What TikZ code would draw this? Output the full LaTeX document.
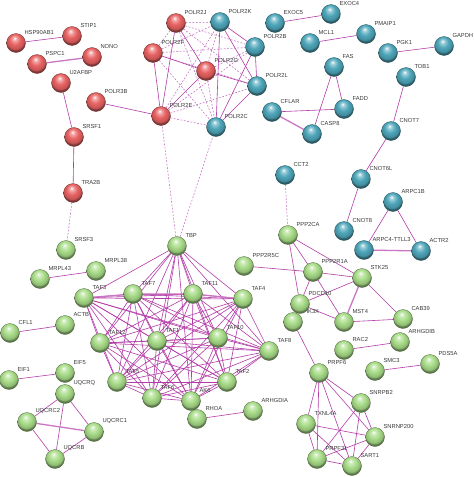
\documentclass[tikz,border=0pt]{standalone}
\usepackage{fontspec}
\setmainfont{Liberation Sans}
\usepackage{xcolor}
\usepackage{tikz}
\definecolor{NetRed}{HTML}{E86262}
\definecolor{NetBlue}{HTML}{4EA6BA}
\definecolor{NetGreen}{HTML}{A8DC88}
\definecolor{NetEdge}{HTML}{B43CA8}
\definecolor{NetDash}{HTML}{C070C0}
\definecolor{NetText}{HTML}{3A3A3A}
\colorlet{netcol}{NetGreen}
\pgfdeclareradialshading[netcol]{netball}{\pgfqpoint{-4bp}{13bp}}{%
  color(0bp)=(white); color(5bp)=(netcol!55!white); color(14bp)=(netcol);
  color(23bp)=(netcol!85!black); color(26bp)=(netcol!55!black); color(50bp)=(netcol!40!black)}
\pgfdeclarelayer{paper}
\pgfdeclarelayer{edges}
\pgfsetlayers{paper,edges,main}

\begin{document}
\begin{tikzpicture}[x=1pt,y=-1pt,
  ball/.style={circle,minimum size=19pt,inner sep=0pt,/utils/exec={\colorlet{netcol}{#1}},
    shading=netball,draw=#1!45!black,line width=0.3pt},
  rball/.style={ball=NetRed},
  bball/.style={ball=NetBlue},
  gball/.style={ball=NetGreen},
  pname/.style={font=\fontsize{5.8}{6}\selectfont,text=NetText,inner sep=0.8pt},
  txt/.style={label={[pname,label distance=1pt]45:#1}},
  ppi/.style={draw=NetEdge,line width=0.6pt},
  ppi2/.style={draw=NetEdge!70,line width=1.3pt},
  pred/.style={draw=NetDash,line width=0.55pt,dash pattern=on 1.8pt off 1.6pt}]
\path[use as bounding box] (0,0) rectangle (474,477);
\begin{pgfonlayer}{paper}
\fill[white] (0,0) rectangle (474,477);
\end{pgfonlayer}
% red group
\node[rball,txt=HSP90AB1] (hsp) at (16,43) {};
\node[rball,txt=STIP1] (stip) at (72,36) {};
\node[rball,txt=PSPC1] (pspc) at (37,64) {};
\node[rball,txt=NONO] (nono) at (92,57) {};
\node[rball,txt=U2AFBP] (u2af) at (61,83) {};
\node[rball,txt=POLR3B] (polr3b) at (96,102) {};
\node[rball,txt=SRSF1] (srsf1) at (74,137) {};
\node[rball,txt=TRA2B] (tra2b) at (73,193) {};
\node[rball,txt=POLR2J] (r2j) at (176,23) {};
\node[rball,txt=POLR2F] (r2f) at (153,53) {};
\node[rball,txt=POLR2G] (r2g) at (206,71) {};
\node[rball,txt=POLR2E] (r2e) at (161,116) {};
% blue group
\node[bball,txt=POLR2K] (r2k) at (220,22) {};
\node[bball,txt=POLR2B] (r2b) at (255,47) {};
\node[bball,txt=POLR2L] (r2l) at (257,86) {};
\node[bball,txt=POLR2C] (r2c) at (216,127) {};
\node[bball,txt=EXOC5] (exoc5) at (275,23) {};
\node[bball,txt=EXOC4] (exoc4) at (331,14) {};
\node[bball,txt=MCL1] (mcl1) at (310,43) {};
\node[bball,txt=PMAIP1] (pmaip) at (366,34) {};
\node[bball,txt=PGK1] (pgk1) at (388,53) {};
\node[bball,txt=GAPDH] (gapdh) at (444,46) {};
\node[bball,txt=FAS] (fas) at (334,67) {};
\node[bball,txt=TOB1] (tob1) at (406,77) {};
\node[bball,txt=CFLAR] (cflar) at (272,112) {};
\node[bball,txt=FADD] (fadd) at (344,109) {};
\node[bball,txt=CASP8] (casp8) at (312,134) {};
\node[bball,txt=CNOT7] (cnot7) at (391,131) {};
\node[bball,txt=CCT2] (cct2) at (285,175) {};
\node[bball,txt=CNOT6L] (cnot6l) at (361,179) {};
\node[bball,txt=ARPC1B] (arpc1b) at (393,202) {};
\node[bball,txt=CNOT8] (cnot8) at (344,231) {};
\node[bball,txt=ARPC4-TTLL3] (arpc4) at (364,250) {};
\node[bball,txt=ACTR2] (actr2) at (421,251) {};
% green group
\node[gball,txt=SRSF3] (srsf3) at (66,250) {};
\node[gball,txt=TBP] (tbp) at (177,246) {};
\node[gball,txt=PPP2CA] (pp2ca) at (288,235) {};
\node[gball,txt=MRPL38] (mrpl38) at (96,271) {};
\node[gball,txt=MRPL43] (mrpl43) at (40,279) {};
\node[gball,txt=PPP2R5C] (pp2r5c) at (244,266) {};
\node[gball,txt=PPP2R1A] (pp2r1a) at (313,272) {};
\node[gball,txt=STK25] (stk25) at (362,278) {};
\node[gball,txt=TAF3] (taf3) at (84,298) {};
\node[gball,txt=TAF7] (taf7) at (133,294) {};
\node[gball,txt=TAF11] (taf11) at (193,294) {};
\node[gball,txt=TAF4] (taf4) at (243,299) {};
\node[gball,label={[pname,label distance=1pt,xshift=5pt]45:IK3X}] (ik3x) at (293,322) {};
\node[gball,txt=PDCD10] (pdcd10) at (300,304) {};
\node[gball,txt=MST4] (mst4) at (344,322) {};
\node[gball,txt=CAB39] (cab39) at (403,319) {};
\node[gball,txt=ACTB] (actb) at (65,325) {};
\node[gball,txt=CFL1] (cfl1) at (10,333) {};
\node[gball,txt=TAF12] (taf12) at (100,343) {};
\node[gball,txt=TAF1] (taf1) at (157,341) {};
\node[gball,txt=TAF10] (taf10) at (218,338) {};
\node[gball,txt=TAF8] (taf8) at (269,351) {};
\node[gball,txt=ARHGDIB] (arhgdib) at (400,342) {};
\node[gball,txt=RAC2] (rac2) at (344,350) {};
\node[gball,txt=PDS5A] (pds5a) at (430,364) {};
\node[gball,txt=SMC3] (smc3) at (375,371) {};
\node[gball,txt=PRPF6] (prpf6) at (319,373) {};
\node[gball,txt=EIF5] (eif5) at (65,373) {};
\node[gball,txt=EIF1] (eif1) at (9,380) {};
\node[gball,txt=UQCRQ] (uqcrq) at (65,394) {};
\node[gball,txt=TAF5] (taf5) at (117,382) {};
\node[gball,txt=TAF2] (taf2) at (227,382) {};
\node[gball,txt=TAF6] (taf6) at (152,398) {};
\node[gball,txt=AK6] (ak6) at (191,401) {};
\node[gball,txt=RHOA] (rhoa) at (197,419) {};
\node[gball,txt=ARHGDIA] (arhgdia) at (253,411) {};
\node[gball,txt=SNRPB2] (snrpb2) at (361,403) {};
\node[gball,txt=TXNL4A] (txnl4a) at (306,424) {};
\node[gball,txt=UQCRC2] (uqcrc2) at (27,422) {};
\node[gball,txt=UQCRC1] (uqcrc1) at (94,432) {};
\node[gball,txt=SNRNP200] (snrnp200) at (375,437) {};
\node[gball,txt=UQCRB] (uqcrb) at (55,459) {};
\node[gball,txt=PRPF31] (prpf31) at (317,459) {};
\node[gball,txt=SART1] (sart1) at (352,466) {};

\begin{pgfonlayer}{edges}
% polymerase complex
\foreach \a/\b in {r2j/r2k,r2j/r2b,r2j/r2l,r2j/r2c,r2j/r2f,r2f/r2k,r2f/r2b,r2f/r2l,r2f/r2c,
  r2g/r2k,r2g/r2b,r2g/r2c,r2e/r2k,r2e/r2b,r2e/r2l,r2e/r2c,tbp/r2e,tbp/r2c,tra2b/srsf3,cct2/pp2ca}
  \draw[pred] (\a) -- (\b);
\foreach \a/\b in {r2j/r2e,r2f/r2e,r2g/r2e,r2f/r2g,r2j/r2g,r2g/r2l,r2k/r2b,r2k/r2l,r2k/r2c,
  r2b/r2l,r2b/r2c,r2l/r2c,polr3b/r2e,hsp/stip,u2af/srsf1,srsf1/tra2b}
  \draw[ppi] (\a) -- (\b);
\draw[ppi2] (pspc) -- (nono);
% TFIID
\foreach \a [count=\i] in {tbp,taf3,taf7,taf11,taf4,taf12,taf1,taf10,taf8,taf5,taf6,ak6,taf2}
  \foreach \b [count=\j] in {tbp,taf3,taf7,taf11,taf4,taf12,taf1,taf10,taf8,taf5,taf6,ak6,taf2}
    {\ifnum\j>\i \draw[ppi] (\a) -- (\b); \fi}
\draw[ppi2] (taf3) -- (taf7) -- (taf11) -- (taf4);
% small pairs
\foreach \a/\b in {exoc5/exoc4,mcl1/pmaip,pgk1/gapdh,fas/fadd,fas/casp8,cflar/fadd,tob1/cnot7,
  cnot7/cnot6l,cnot6l/cnot8,arpc1b/arpc4,arpc1b/actr2,mrpl43/mrpl38,cfl1/actb,eif1/eif5,
  uqcrq/uqcrc2,uqcrq/uqcrc1,uqcrq/uqcrb,uqcrc2/uqcrb,uqcrc1/uqcrb,rhoa/arhgdia,rac2/arhgdib,
  smc3/pds5a}
  \draw[ppi] (\a) -- (\b);
\draw[ppi2] (cflar) -- (casp8);
\draw[ppi2] (arpc4) -- (actr2);
\draw[ppi2] (uqcrc2) -- (uqcrc1);
% phosphatase and spliceosome
\foreach \a/\b in {pp2ca/pp2r1a,pp2ca/stk25,pp2ca/pdcd10,pp2r5c/pp2r1a,pp2r1a/stk25,pp2r1a/mst4,
  pp2r1a/pdcd10,pdcd10/stk25,pdcd10/mst4,stk25/cab39,mst4/cab39,ik3x/prpf6,
  prpf6/txnl4a,prpf6/prpf31,prpf6/sart1,prpf6/snrpb2,prpf6/snrnp200,snrpb2/prpf31,snrpb2/sart1,
  snrpb2/snrnp200,txnl4a/snrnp200,txnl4a/prpf31,txnl4a/sart1,prpf31/sart1,prpf31/snrnp200,
  sart1/snrnp200}
  \draw[ppi] (\a) -- (\b);
\draw[ppi2] (stk25) -- (mst4);
\end{pgfonlayer}
\end{tikzpicture}
\end{document}
